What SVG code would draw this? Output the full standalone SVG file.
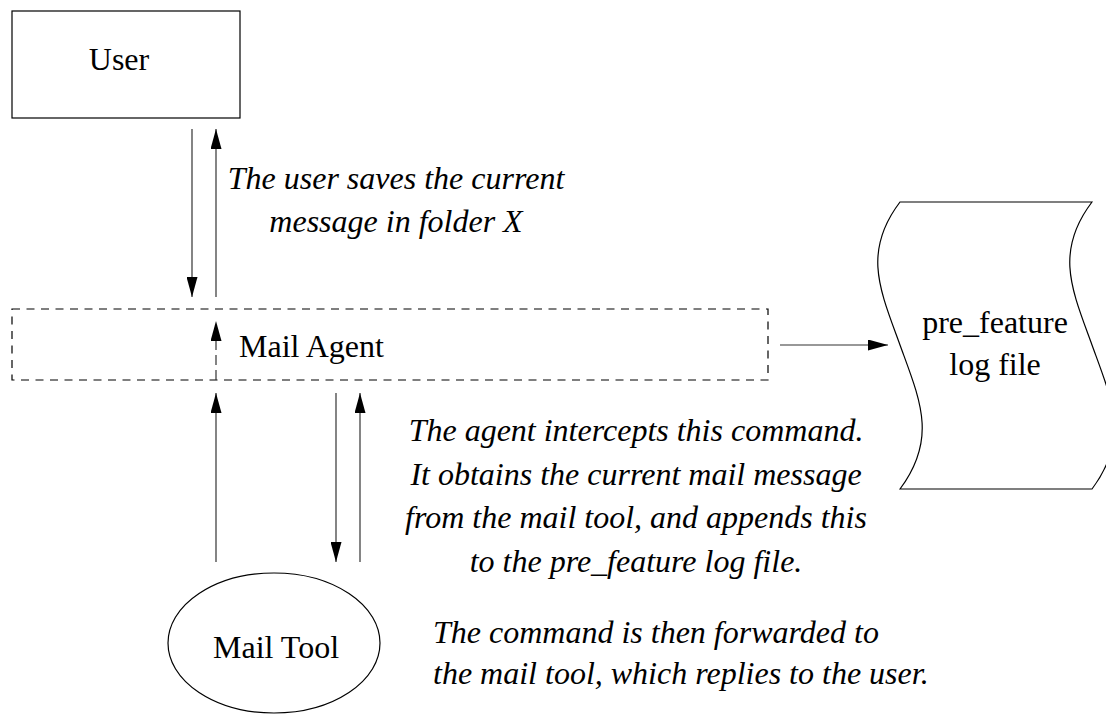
<svg xmlns="http://www.w3.org/2000/svg" width="1106" height="715" viewBox="0 0 1106 715">
<style>
.box{fill:#fff;stroke:#000;stroke-width:1.2}
.dash{fill:none;stroke:#000;stroke-width:1.2;stroke-dasharray:8 6.5}
.ln{fill:none;stroke:#333;stroke-width:1.2}
.lbl{font-family:"Liberation Serif","Times New Roman",serif;font-size:32px;fill:#000}
.it{font-family:"Liberation Serif","Times New Roman",serif;font-size:32px;font-style:italic;fill:#000}
</style>
<defs>
<marker id="ah" viewBox="0 0 20 11" refX="20" refY="5.5" markerWidth="20" markerHeight="11" markerUnits="userSpaceOnUse" orient="auto">
<path d="M0,0 L20,5.5 L0,11 Z" fill="#000"/>
</marker>
</defs>
<rect width="1106" height="715" fill="#fff"/>
<g id="user">
<rect class="box" x="12" y="11" width="228" height="107"/>
<text class="lbl" x="119" y="70" text-anchor="middle">User</text>
</g>
<g id="mail-agent">
<rect class="dash" x="12" y="309" width="756" height="71"/>
<text class="lbl" x="239" y="357">Mail Agent</text>
</g>
<g id="log-file">
<path class="box" d="M900,202 L1092,202 C1054,252 1072,290 1092,345 C1112,400 1130,438 1092,489 L900,489 C938,438 920,400 900,345 C880,290 862,252 900,202 Z"/>
<text class="lbl" x="995" y="333" text-anchor="middle">pre_feature</text>
<text class="lbl" x="995" y="375" text-anchor="middle">log file</text>
</g>
<g id="mail-tool">
<ellipse class="box" cx="274" cy="643" rx="106" ry="70"/>
<text class="lbl" x="276" y="658" text-anchor="middle">Mail Tool</text>
</g>
<g id="connectors">
<line class="ln" x1="192" y1="129" x2="192" y2="297" marker-end="url(#ah)"/>
<line class="ln" x1="216" y1="297" x2="216" y2="129" marker-end="url(#ah)"/>
<line class="ln" x1="216" y1="380" x2="216" y2="321" stroke-dasharray="10 5" marker-end="url(#ah)"/>
<line class="ln" x1="216" y1="562" x2="216" y2="393" marker-end="url(#ah)"/>
<line class="ln" x1="336" y1="393" x2="336" y2="562" marker-end="url(#ah)"/>
<line class="ln" x1="360" y1="562" x2="360" y2="393" marker-end="url(#ah)"/>
<line class="ln" x1="780" y1="345" x2="888" y2="345" marker-end="url(#ah)"/>
</g>
<g id="notes">
<text class="it" x="396" y="189" text-anchor="middle">The user saves the current</text>
<text class="it" x="396" y="232" text-anchor="middle">message in folder X</text>
<text class="it" x="636" y="441" text-anchor="middle">The agent intercepts this command.</text>
<text class="it" x="636" y="485" text-anchor="middle">It obtains the current mail message</text>
<text class="it" x="636" y="528" text-anchor="middle">from the mail tool, and appends this</text>
<text class="it" x="636" y="572" text-anchor="middle">to the pre_feature log file.</text>
<text class="it" x="433" y="643">The command is then forwarded to</text>
<text class="it" x="433" y="684">the mail tool, which replies to the user.</text>
</g>
</svg>
